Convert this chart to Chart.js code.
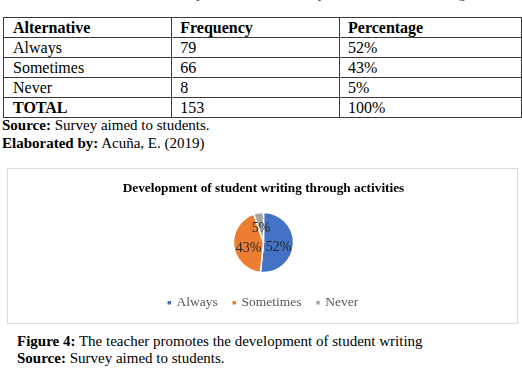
<!DOCTYPE html>
<html>
<head>
<meta charset="utf-8">
<script src="https://cdn.jsdelivr.net/npm/chart.js@4"></script>
<style>
  html, body { margin: 0; padding: 0; background: #fff; }
  body { width: 522px; height: 369px; position: relative; overflow: hidden;
         font-family: "Liberation Serif", "Times New Roman", serif; color: #000; }
  .line { position: absolute; white-space: nowrap; font-size: 15px; line-height: 18px; }
  #cut { top: -16px; left: 70px; font-size: 15px; color: #444; }
  table { position: absolute; left: 3px; top: 17px; border-collapse: collapse; font-size: 16px; }
  td { border: 1px solid #3a3a3a; height: 19px; padding: 0 0 0 8px; line-height: 18px; vertical-align: middle; }
  td.c1 { width: 164px; padding-left: 9px; }
  td.c2 { width: 165px; }
  td.c3 { width: 180px; }
  tr.head td { font-weight: bold; }
  #box { position: absolute; left: 7px; top: 168px; width: 509px; height: 154px;
         border: 1px solid #d9d9d9; }
</style>
</head>
<body>
<div class="line" id="cut">Table 4: The teacher promotes the development of student writing</div>
<table id="tbl"></table>
<div class="line" style="left:2px; top:116px;"><b>Source:</b> Survey aimed to students.</div>
<div class="line" style="left:2px; top:134px;"><b>Elaborated by:</b> Acuña, E. (2019)</div>
<div id="box"><canvas id="chart" width="509" height="154"></canvas></div>
<div class="line" style="left:17px; top:332px;"><b>Figure 4:</b> The teacher promotes the development of student writing</div>
<div class="line" style="left:17px; top:349px;"><b>Source:</b> Survey aimed to students.</div>

<script>
// data
const categories = ['Always', 'Sometimes', 'Never'];
const frequencies = [79, 66, 8];
const percentages = ['52%', '43%', '5%'];
const tableHeader = ['Alternative', 'Frequency', 'Percentage'];
const totalRow = ['TOTAL', '153', '100%'];
const colors = ['#4472C4', '#ED7D31', '#A5A5A5'];

// build the table from the arrays
const tbl = document.getElementById('tbl');
function addRow(cells, cls) {
    const tr = document.createElement('tr');
    if (cls) tr.className = cls;
    cells.forEach((txt, i) => {
        const td = document.createElement('td');
        td.className = 'c' + (i + 1);
        td.textContent = txt;
        tr.appendChild(td);
    });
    tbl.appendChild(tr);
}
addRow(tableHeader, 'head');
categories.forEach((c, i) => addRow([c, String(frequencies[i]), percentages[i]]));
addRow(totalRow, 'total');
tbl.lastChild.firstChild.style.fontWeight = 'bold';

Chart.defaults.font.family = "'Liberation Serif', 'Times New Roman', serif";

// percentage labels inside the slices
const sliceLabels = {
    id: 'sliceLabels',
    afterDatasetsDraw(chart) {
        const ctx = chart.ctx;
        const meta = chart.getDatasetMeta(0);
        const data = chart.data.datasets[0].data;
        const total = data.reduce((a, b) => a + b, 0);
        ctx.save();
        ctx.font = "14px 'Liberation Serif', serif";
        ctx.fillStyle = '#262626';
        ctx.textAlign = 'center';
        ctx.textBaseline = 'middle';
        meta.data.forEach((arc, i) => {
            const p = arc.getProps(['x', 'y', 'startAngle', 'endAngle', 'outerRadius'], true);
            const mid = (p.startAngle + p.endAngle) / 2;
            const r = p.outerRadius * 0.5;
            const txt = Math.round(data[i] / total * 100) + '%';
            // side labels sit a little lower, like Excel's best fit
            const dy = 4.5 * Math.abs(Math.cos(mid));
            ctx.fillText(txt, p.x + Math.cos(mid) * r, p.y + Math.sin(mid) * r + dy);
        });
        ctx.restore();
    }
};

new Chart(document.getElementById('chart'), {
    type: 'pie',
    data: {
        labels: categories,
        datasets: [{
            data: frequencies,
            backgroundColor: colors,
            borderColor: '#ffffff',
            borderWidth: 1.5,
            radius: 30,
        }],
    },
    options: {
        responsive: false,
        animation: { duration: 0 },
        layout: { padding: { top: 4, left: 2, right: 0, bottom: 3.5 } },
        plugins: {
            title: {
                display: true,
                text: 'Development of student writing through activities',
                color: '#000',
                font: { size: 13.3, weight: 'bold' },
                padding: { top: 8, bottom: 8 },
            },
            legend: {
                position: 'bottom',
                labels: {
                    usePointStyle: true,
                    pointStyle: 'rect',
                    boxWidth: 1,
                    boxHeight: 5,
                    padding: 16,
                    color: '#595959',
                    font: { size: 13.5 },
                },
            },
            tooltip: { enabled: false },
        },
    },
    plugins: [sliceLabels],
});
</script>
</body>
</html>
